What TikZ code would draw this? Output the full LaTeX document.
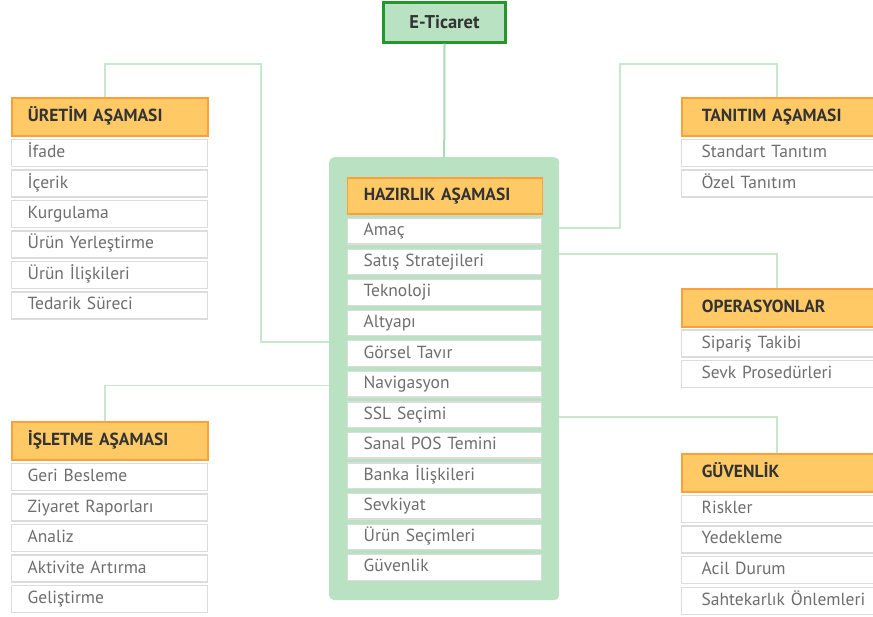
\documentclass[tikz,border=0pt]{standalone}
\usepackage{fontspec}
\setmainfont{PT Sans}
\definecolor{hdrfill}{HTML}{FFCA66}
\definecolor{hdrline}{HTML}{FF9F3A}
\definecolor{boxline}{HTML}{DCDCDC}
\definecolor{itemtext}{HTML}{6E6E6E}
\definecolor{hdrtext}{HTML}{333333}
\definecolor{panel}{HTML}{B8E2C2}
\definecolor{rootline}{HTML}{24962C}
\definecolor{connline}{HTML}{C6E8CB}
\definecolor{trunk}{HTML}{ABDBB5}
\tikzset{
  hdr/.style={draw=hdrline, fill=hdrfill, line width=1.6pt, anchor=north west,
    minimum height=38, inner ysep=0pt, align=left, text=hdrtext,
    text height=12.5, text depth=3.5,
    font=\fontsize{17.5}{19}\selectfont\bfseries},
  itembox/.style={draw=boxline, fill=white, line width=1.3pt, anchor=north west,
    minimum height=27, inner ysep=0pt, align=left, text=itemtext,
    text height=12.5, text depth=3.5,
    font=\fontsize{17.5}{19}\selectfont},
  leftcol/.style={inner xsep=16, text width=164},
  midcol/.style={inner xsep=16, text width=162},
  rightcol/.style={inner xsep=15, text width=200},
  conn/.style={draw=connline, line width=1.2pt},
}
\begin{document}
\begin{tikzpicture}[x=1pt,y=-1pt]
\useasboundingbox (0,0) rectangle (873,617);
\clip (0,0) rectangle (873,617);

% root
\node[draw=rootline, fill=panel, line width=2.4pt, minimum width=122, minimum height=40,
  text=hdrtext, font=\fontsize{18.5}{20}\selectfont\bfseries] (et) at (444.5,22.5) {E-Ticaret};

% central panel
\node[fill=panel, rounded corners=5pt, minimum width=230, minimum height=443,
  anchor=north west, inner sep=0pt] (hzbox) at (329,157) {};
\draw[draw=trunk, line width=2pt] (et.south) -- (hzbox.north);

\node[hdr, midcol, minimum width=195, minimum height=36] (hzh) at (346.5,177.5) {HAZIRLIK AŞAMASI};
\foreach \t [count=\i] in {Amaç, Satış Stratejileri, Teknoloji, Altyapı, Görsel Tavır,
    Navigasyon, SSL Seçimi, Sanal POS Temini, Banka İlişkileri, Sevkiyat,
    Ürün Seçimleri, Güvenlik}
  \node[itembox, midcol, minimum width=194, minimum height=25.5] (hz\i) at (347,{218+30.55*(\i-1)}) {\t};

% left: production
\node[hdr, leftcol, minimum width=196] (urh) at (11,97) {ÜRETİM AŞAMASI};
\foreach \t [count=\i] in {İfade, İçerik, Kurgulama, Ürün Yerleştirme, Ürün İlişkileri, Tedarik Süreci}
  \node[itembox, leftcol, minimum width=196] (ur\i) at (11,{139+30.45*(\i-1)}) {\t};

% left: operation
\node[hdr, leftcol, minimum width=196] (ish) at (11,421) {İŞLETME AŞAMASI};
\foreach \t [count=\i] in {Geri Besleme, Ziyaret Raporları, Analiz, Aktivite Artırma, Geliştirme}
  \node[itembox, leftcol, minimum width=196] (is\i) at (11,{463+30.45*(\i-1)}) {\t};

% right: promotion
\node[hdr, rightcol, minimum width=240] (tnh) at (681,97) {TANITIM AŞAMASI};
\foreach \t [count=\i] in {Standart Tanıtım, Özel Tanıtım}
  \node[itembox, rightcol, minimum width=240] (tn\i) at (681,{139+30.45*(\i-1)}) {\t};

% right: operations
\node[hdr, rightcol, minimum width=240] (oph) at (681,288) {OPERASYONLAR};
\foreach \t [count=\i] in {Sipariş Takibi, Sevk Prosedürleri}
  \node[itembox, rightcol, minimum width=240] (op\i) at (681,{329.5+30.7*(\i-1)}) {\t};

% right: security
\node[hdr, rightcol, minimum width=240] (gvh) at (681,453) {GÜVENLİK};
\foreach \t [count=\i] in {Riskler, Yedekleme, Acil Durum, Sahtekarlık Önlemleri}
  \node[itembox, rightcol, minimum width=240] (gv\i) at (681,{494.5+30.7*(\i-1)}) {\t};

% connector bends and joins on the panel edges
\coordinate (k1) at (261,64);
\coordinate (j1) at (329,342);
\coordinate (j2) at (329,385.5);
\coordinate (k3) at (620,64);
\coordinate (j3) at (559,228);
\coordinate (j4) at (559,254);
\coordinate (j5) at (559,417);

\draw[conn] ([xshift=94]urh.north west) |- (k1) |- (j1);
\draw[conn] ([xshift=94]ish.north west) |- (j2);
\draw[conn] (j3) -| (k3) -| ([xshift=96]tnh.north west);
\draw[conn] (j4) -| ([xshift=96]oph.north west);
\draw[conn] (j5) -| ([xshift=96]gvh.north west);
\end{tikzpicture}
\end{document}
